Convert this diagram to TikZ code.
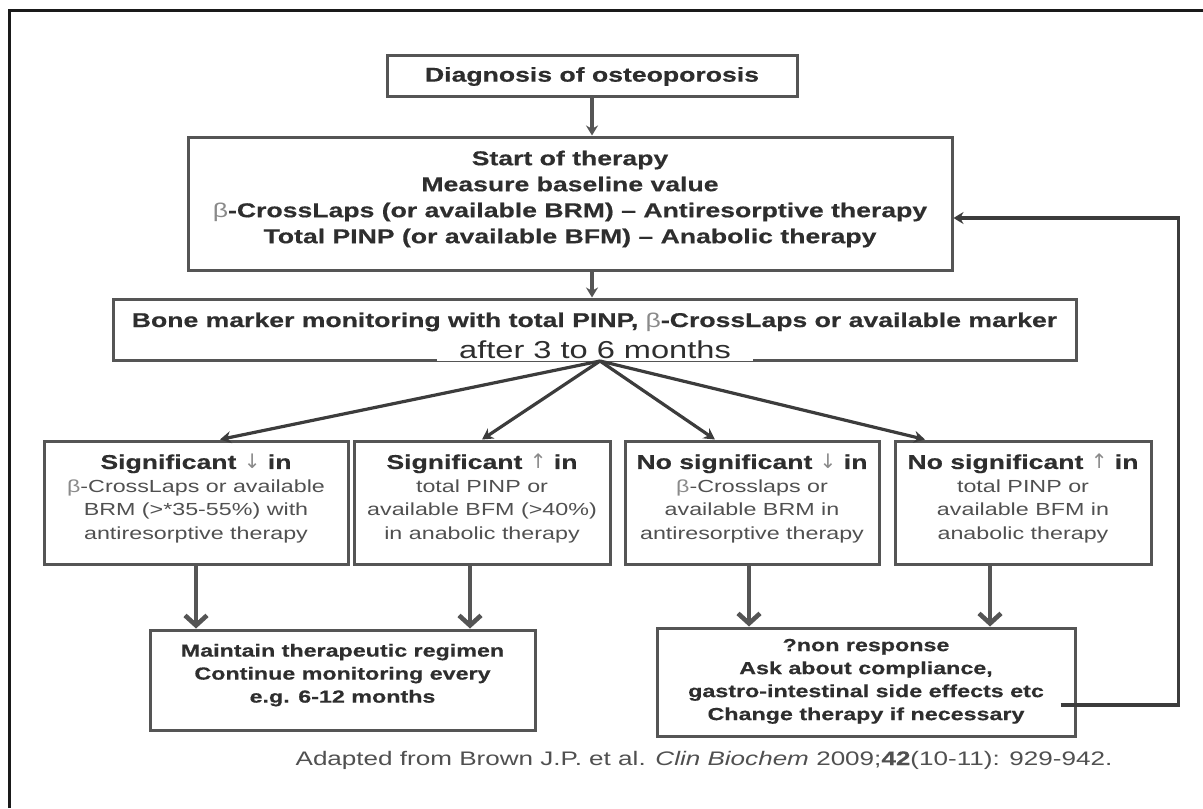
\documentclass[tikz,border=0pt]{standalone}
\usepackage{fontspec}
\setmainfont{Liberation Sans}[FakeStretch=1.33, BoldFeatures={FakeBold=0.5}]
\newfontfamily\symfont{DejaVu Sans}
\usetikzlibrary{arrows.meta,calc}

\definecolor{framecol}{HTML}{1A1A1A}
\definecolor{boxcol}{HTML}{555555}
\definecolor{inkcol}{HTML}{2E2E2E}
\definecolor{bodycol}{HTML}{505050}
\definecolor{lightcol}{HTML}{8A8A8A}
\definecolor{fancol}{HTML}{3C3C3C}

% light Greek beta and thin arrows, as in the printed chart
\newcommand\bet{{\mdseries\color{lightcol}β}}
\newcommand\dnarr{{\mdseries\symfont\color{lightcol}↓}}
\newcommand\uparr{{\mdseries\symfont\color{lightcol}↑}}
% raise a block of centred lines without changing its size
\newcommand\stack[2]{\raisebox{#1}[\height][\depth]{\begin{tabular}{@{}c@{}}#2\end{tabular}}}
\newcommand\lift[2]{\raisebox{#1}[\height][\depth]{#2}}
\newcommand\headline[1]{{\fontsize{10}{11.75}\selectfont\bfseries\color{inkcol}#1}}

\tikzset{
  box/.style={draw=boxcol, line width=1.5pt, inner sep=0pt, text=inkcol,
    font=\fontsize{10}{13}\selectfont\bfseries},
  choice/.style={box, minimum height=61.5pt, text=bodycol,
    font=\fontsize{8.75}{11.75}\selectfont},
  outcome/.style={box, font=\fontsize{8.75}{11.5}\selectfont\bfseries},
  thinarrow/.style={draw=boxcol, line width=1.9pt, -{Stealth[length=5pt,width=6pt]}},
  fanarrow/.style={draw=fancol, line width=1.6pt, -{Stealth[length=5.5pt,width=6pt]}},
  downarrow/.style={draw=boxcol, line width=2.3pt, -{Straight Barb[length=5pt,width=11pt]}},
  backarrow/.style={draw=fancol, line width=1.8pt, -{Stealth[length=5pt,width=6pt]}},
}

\begin{document}
\begin{tikzpicture}[x=0.5pt, y=-0.5pt]
\useasboundingbox (0,0) rectangle (1203,808);

% outer frame (left and top edges)
\draw[framecol, line width=1.5pt] (9.5,808) -- (9.5,11) -- (1203,11);

\node[box, minimum width=205pt, minimum height=20.5pt] (diag) at (592,76.5)
  {Diagnosis of osteoporosis};

\node[box, minimum width=382pt, minimum height=66.5pt] (start) at (570,203.5)
  {\stack{2.25pt}{Start of therapy\\
   Measure baseline value\\
   \bet-CrossLaps (or available BRM) -- Antiresorptive therapy\\
   Total PINP (or available BFM) -- Anabolic therapy}};

\node[box, minimum width=481.5pt, minimum height=30.5pt] (bone) at (594.5,329.5)
  {\lift{3.8pt}{Bone marker monitoring with total PINP, \bet-CrossLaps or available marker}};
\node[fill=white, text=inkcol, inner xsep=11pt, inner ysep=1pt,
  font=\fontsize{12.25}{14}\selectfont] (after) at (595,350) {after 3 to 6 months};

\node[choice, minimum width=152pt] (b1) at (196,502.5)
  {\stack{1.5pt}{\headline{Significant \dnarr{} in}\\
   \bet-CrossLaps or available\\
   BRM (>*35-55\%) with\\
   antiresorptive therapy}};
\node[choice, minimum width=128pt] (b2) at (482,502.5)
  {\stack{1.5pt}{\headline{Significant \uparr{} in}\\
   total PINP or\\
   available BFM (>40\%)\\
   in anabolic therapy}};
\node[choice, minimum width=127pt] (b3) at (752,502.5)
  {\stack{1.5pt}{\headline{No significant \dnarr{} in}\\
   \bet-Crosslaps or\\
   available BRM in\\
   antiresorptive therapy}};
\node[choice, minimum width=128pt] (b4) at (1023,502.5)
  {\stack{1.5pt}{\headline{No significant \uparr{} in}\\
   total PINP or\\
   available BFM in\\
   anabolic therapy}};

\node[outcome, minimum width=192.5pt, minimum height=50pt] (maint) at (342.5,680)
  {\stack{2.5pt}{Maintain therapeutic regimen\\
   Continue monitoring every\\
   e.g. 6-12 months}};
\node[outcome, minimum width=209pt, minimum height=54pt] (nr) at (866,682)
  {\stack{0.5pt}{?non response\\
   Ask about compliance,\\
   gastro-intestinal side effects etc\\
   Change therapy if necessary}};

\node[text=bodycol, inner sep=0pt, font=\fontsize{9.8}{11}\selectfont] (cite) at (704,760)
  {Adapted from Brown J.P. et al. \textit{Clin Biochem} 2009;\textbf{42}(10-11): 929-942.};

% main flow
\draw[thinarrow] (diag.south) -- (diag.south |- start.north);
\draw[thinarrow] (start.south -| diag.south) -- (bone.north -| diag.south);

% fan of outcomes
\coordinate (fan) at (600,361);
\draw[fanarrow] (fan) -- ([xshift=12pt]b1.north);
\draw[fanarrow] (fan) -- (b2.north);
\draw[fanarrow] (fan) -- ([xshift=-18.5pt]b3.north);
\draw[fanarrow] (fan) -- ([xshift=-49pt]b4.north);

% results to actions
\draw[downarrow] (b1.south) -- (b1.south |- maint.north);
\draw[downarrow] ([xshift=-6pt]b2.south) -- ([xshift=-6pt]b2.south |- maint.north);
\draw[downarrow] ([xshift=-1.5pt]b3.south) -- ([xshift=-1.5pt]b3.south |- nr.north);
\draw[downarrow] ([xshift=-16.5pt]b4.south) -- ([xshift=-16.5pt]b4.south |- nr.north);

% feedback to the start of therapy
\draw[backarrow] ([xshift=-8pt,yshift=-11.5pt]nr.east) -- ++(118,0)
  |- ([yshift=-7.25pt]start.east);
\end{tikzpicture}
\end{document}
